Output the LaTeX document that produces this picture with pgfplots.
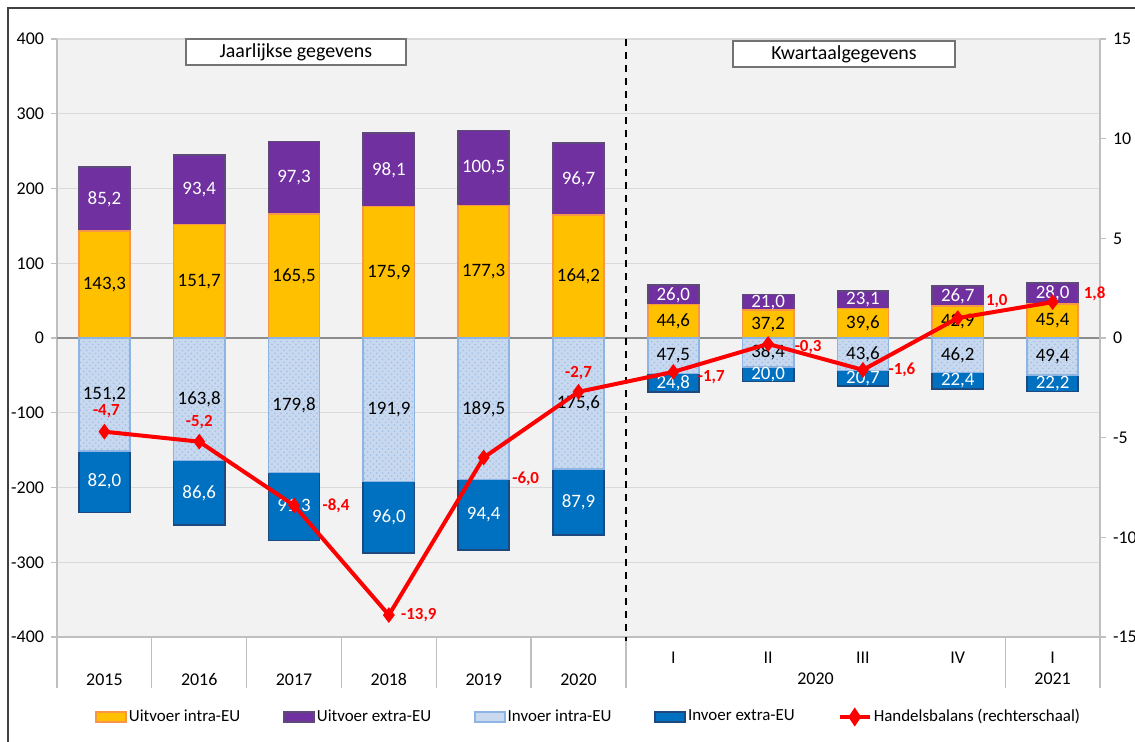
\documentclass[border=0pt]{standalone}
\usepackage{fontspec}
\setmainfont{Carlito}
\usepackage{pgfplots}
\pgfplotsset{compat=1.18}
\usepackage{pgfplotstable}
\usetikzlibrary{patterns}

\definecolor{cui}{HTML}{FFC000}
\definecolor{cuiE}{HTML}{F79646}
\definecolor{cue}{HTML}{7030A0}
\definecolor{cueE}{HTML}{5F497A}
\definecolor{cii}{HTML}{C8D8EE}
\definecolor{ciiE}{HTML}{8DB4E2}
\definecolor{cie}{HTML}{0070C0}
\definecolor{cieE}{HTML}{1F497D}
\definecolor{bg}{HTML}{F2F2F2}
\definecolor{grd}{HTML}{D9D9D9}
\definecolor{axl}{HTML}{BFBFBF}
\definecolor{balred}{HTML}{FF0000}

\pgfplotstableread{
x ui ue ii ie bal dx dy
0 143.3 85.2 151.2 82.0 -4.7 1 10.5
1 151.7 93.4 163.8 86.6 -5.2 0 10
2 165.5 97.3 179.8 91.3 -8.4 21 0
3 175.9 98.1 191.9 96.0 -13.9 15 0
4 177.3 100.5 189.5 94.4 -6.0 21 -10.5
5 164.2 96.7 175.6 87.9 -2.7 0 9.5
6 44.6 26.0 47.5 24.8 -1.7 19 -2.5
7 37.2 21.0 38.4 20.0 -0.3 20 -1.5
8 39.6 23.1 43.6 20.7 -1.6 19.5 0
9 42.9 26.7 46.2 22.4 1.0 19.5 8.5
10 45.4 28.0 49.4 22.2 1.8 21 4
}\data

\pgfplotsset{
  base/.style={
    width=521.5bp, height=299bp, scale only axis,
    xmin=-0.5, xmax=10.5,
    enlargelimits=false, clip=false,
    /pgf/number format/assume math mode=true,
    tick label style={font=\fontsize{9}{11}\selectfont, text=black},
  },
  lbl/.style={draw=none, mark=none, point meta=explicit,
    nodes near coords={\pgfmathprintnumber[fixed,fixed zerofill,precision=1,use comma]{\pgfplotspointmeta}},
    every node near coord/.append style={anchor=center, font=\fontsize{9.5}{11}\selectfont, #1}},
}

\begin{document}
\begin{tikzpicture}
\useasboundingbox (-28.5bp,-52.5bp) rectangle (539bp,318.5bp);
% outer frame
\draw[color=black!75, line width=1bp] (-24.5bp,-60bp) -- (-24.5bp,314.5bp) -- (545bp,314.5bp);

% Axis A: background, left axis, grid, positive bars
\begin{axis}[base,
  axis background/.style={fill=bg},
  ymin=-400, ymax=400, ytick distance=100,
  axis x line*=bottom, axis y line*=left,
  axis line style={-, draw=axl, line width=0.8bp},
  ymajorgrids, grid style={draw=grd, line width=0.6bp},
  extra y ticks={0}, extra y tick labels={},
  extra y tick style={grid style={draw=black!45, line width=0.9bp}},
  ytick style={draw=axl, line width=0.6bp},
  tick align=outside, major tick length=3bp,
  xtick={0,1,2,3,4,5}, xticklabels={2015,2016,2017,2018,2019,2020},
  xtick style={draw=none},
  xticklabel style={anchor=center, yshift=-18bp, text height=6.5bp, text depth=0.5bp},
  extra x ticks={6,7,8,9,10}, extra x tick labels={I,II,III,IV,I},
  extra x tick style={tick style={draw=none}, tick label style={yshift=11bp}},
  ybar stacked, bar width=0.54,
]
\addplot[fill=cui, draw=cuiE, line width=0.8bp] table[x=x,y=ui]{\data};
\addplot[fill=cue, draw=cueE, line width=0.8bp] table[x=x,y=ue]{\data};
\foreach \xv in {-0.5,0.5,1.5,2.5,3.5,4.5,5.5,9.5,10.5}{
  \edef\tmp{\noexpand\draw[draw=axl, line width=0.6bp] (axis cs:\xv,-400) -- ([yshift=-25.5bp]axis cs:\xv,-400);}\tmp
}
\node[font=\fontsize{9}{11}\selectfont] at ([yshift=-21bp]axis cs:7.5,-400) {2020};
\node[font=\fontsize{9}{11}\selectfont] at ([yshift=-21bp]axis cs:10,-400) {2021};
\end{axis}

% Axis B: negative bars
\begin{axis}[base, hide axis, ymin=-400, ymax=400, ybar stacked, bar width=0.54]
\addplot[fill=cii, draw=ciiE, line width=0.8bp,
  postaction={pattern=crosshatch dots, pattern color=ciiE!80}] table[x=x,y expr=-\thisrow{ii}]{\data};
\addplot[fill=cie, draw=cieE, line width=0.8bp] table[x=x,y expr=-\thisrow{ie}]{\data};
\end{axis}

% Axis L: bar labels
\begin{axis}[base, hide axis, ymin=-400, ymax=400]
\addplot[lbl={text=black}] table[x=x, y expr=\thisrow{ui}/2, meta=ui]{\data};
\addplot[lbl={text=white}] table[x=x, y expr=\thisrow{ui}+\thisrow{ue}/2, meta=ue]{\data};
\addplot[lbl={text=black}] table[x=x, y expr=-\thisrow{ii}/2, meta=ii]{\data};
\addplot[lbl={text=white}] table[x=x, y expr=-\thisrow{ii}-\thisrow{ie}/2, meta=ie]{\data};
\draw[black, line width=1.2bp, dash pattern=on 3.5bp off 3bp] (axis cs:5.5,400) -- (axis cs:5.5,-405);
\node[draw=black!55, fill=white, line width=0.8bp, minimum width=110bp, minimum height=13bp, inner sep=0pt,
  font=\fontsize{10}{12}\selectfont] at (rel axis cs:0.229,0.978) {Jaarlijkse gegevens};
\node[draw=black!55, fill=white, line width=0.8bp, minimum width=111bp, minimum height=13bp, inner sep=0pt,
  font=\fontsize{10}{12}\selectfont] at (rel axis cs:0.7546,0.975) {Kwartaalgegevens};
\end{axis}

% Axis C: right axis, balance line, legend
\begin{axis}[base,
  ymin=-15, ymax=15, ytick distance=5,
  axis x line=none, axis y line*=right,
  axis line style={-, draw=axl, line width=0.8bp},
  ytick style={draw=axl, line width=0.6bp},
  tick align=outside, major tick length=3bp,
  legend style={draw=none, fill=none, legend columns=-1,
    at={(0,0)}, anchor=west, xshift=16bp, yshift=-40bp,
    font=\fontsize{8.5}{10}\selectfont,
    /tikz/every even column/.append style={column sep=20.5bp},
    nodes={inner sep=1bp}},
]
\addlegendimage{legend image code/.code={\draw[fill=cui, draw=cuiE, line width=0.8bp] (0bp,-2.5bp) rectangle (15bp,2.5bp);}}
\addlegendentry{Uitvoer intra-EU}
\addlegendimage{legend image code/.code={\draw[fill=cue, draw=cueE, line width=0.8bp] (0bp,-2.5bp) rectangle (15bp,2.5bp);}}
\addlegendentry{Uitvoer extra-EU}
\addlegendimage{legend image code/.code={\draw[fill=cii, draw=ciiE, line width=0.8bp] (0bp,-2.5bp) rectangle (15bp,2.5bp);}}
\addlegendentry{Invoer intra-EU}
\addlegendimage{legend image code/.code={\draw[fill=cie, draw=cieE, line width=0.8bp] (0bp,-2.5bp) rectangle (15bp,2.5bp);}}
\addlegendentry{Invoer extra-EU}
\addplot[balred, line width=2bp, mark=diamond*, mark size=2.3bp, mark options={solid, fill=balred},
  legend image code/.code={\draw[balred, line width=2bp] (0bp,0bp) -- (15bp,0bp); \fill[balred] (7.5bp,0) +(0,3bp) -- +(2bp,0) -- +(0,-3bp) -- +(-2bp,0) -- cycle;},
  point meta=explicit,
  visualization depends on={\thisrow{dx}\as\dx},
  visualization depends on={\thisrow{dy}\as\dy},
  nodes near coords={\pgfmathprintnumber[fixed,fixed zerofill,precision=1,use comma]{\pgfplotspointmeta}},
  every node near coord/.append style={anchor=center, xshift=\dx*1bp, yshift=\dy*1bp, text=balred,
    font=\fontsize{8.5}{10}\selectfont\bfseries}
] table[x=x, y=bal, meta=bal]{\data};
\addlegendentry{Handelsbalans (rechterschaal)}
\end{axis}
\end{tikzpicture}
\end{document}
